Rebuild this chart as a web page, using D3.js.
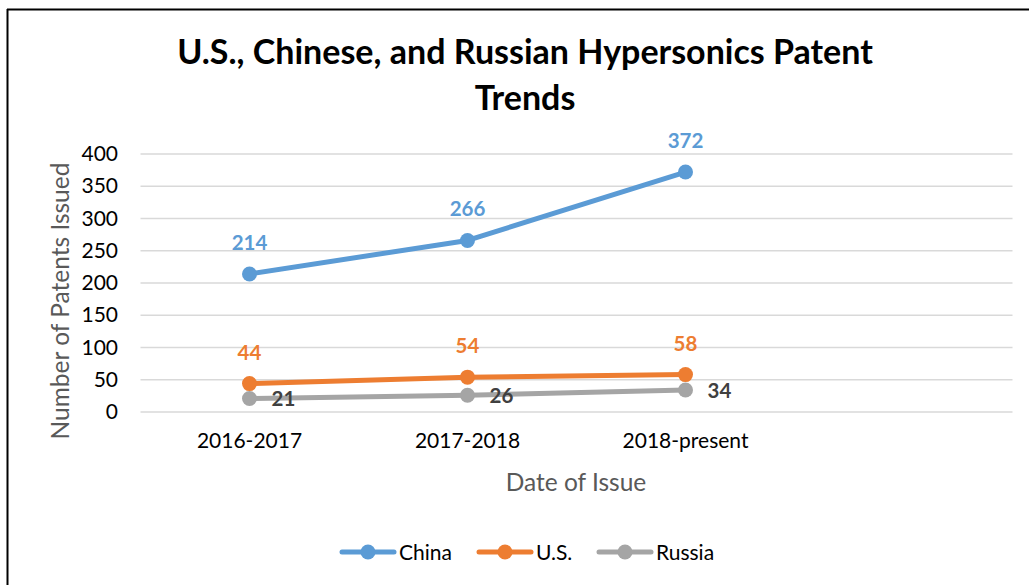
<!DOCTYPE html>
<html><head><meta charset="utf-8">
<script src="https://cdn.jsdelivr.net/npm/d3@7"></script>
<style>body{margin:0;background:#fff;} svg{display:block;font-family:Lato,"Open Sans",sans-serif;}</style>
</head><body>
<svg id="c" width="1029" height="585"></svg>
<script>
const categories = ["2016-2017", "2017-2018", "2018-present", ""];
const china = [214, 266, 372];
const us = [44, 54, 58];
const russia = [21, 26, 34];
const seriesNames = ["China", "U.S.", "Russia"];
const yTicks = [0, 50, 100, 150, 200, 250, 300, 350, 400];
const titleLines = ["U.S., Chinese, and Russian Hypersonics Patent", "Trends"];

const series = [
  {name: seriesNames[0], values: china, color: "#5B9BD5", labelPos: "above", labelColor: "#5B9BD5"},
  {name: seriesNames[1], values: us, color: "#ED7D31", labelPos: "above", labelColor: "#ED7D31"},
  {name: seriesNames[2], values: russia, color: "#A5A5A5", labelPos: "right", labelColor: "#404040"}
];

const svg = d3.select("#c");
// border
svg.append("line").attr("x1", 7).attr("x2", 1029).attr("y1", 9.5).attr("y2", 9.5).attr("stroke", "#000").attr("stroke-width", 2);
svg.append("line").attr("x1", 7.5).attr("x2", 7.5).attr("y1", 9).attr("y2", 585).attr("stroke", "#000").attr("stroke-width", 2);

const x = d3.scaleBand().domain(categories).range([140.5, 1012.5]);
const y = d3.scaleLinear().domain([0, 400]).range([412, 154]);

// title
svg.append("g").selectAll("text").data(titleLines).join("text")
  .attr("x", 525).attr("y", (d, i) => 64 + i * 46)
  .attr("text-anchor", "middle").attr("font-weight", "bold").attr("font-size", 34).attr("fill", "#000")
  .text(d => d);

// gridlines
svg.append("g").selectAll("line").data(yTicks).join("line")
  .attr("x1", 140.5).attr("x2", 1012.5)
  .attr("y1", d => y(d)).attr("y2", d => y(d))
  .attr("stroke", "#D9D9D9").attr("stroke-width", 1.5);

// y axis labels
const yAxis = d3.axisLeft(y).tickValues(yTicks).tickSize(0).tickPadding(0);
const yg = svg.append("g").attr("transform", "translate(118,0)").call(yAxis);
yg.select(".domain").remove();
yg.selectAll("text").attr("font-size", 21).attr("fill", "#000").attr("font-family", "Lato, sans-serif");

// x axis labels
const xAxis = d3.axisBottom(x).tickSize(0).tickPadding(0);
const xg = svg.append("g").attr("transform", "translate(0,433)").call(xAxis);
xg.select(".domain").remove();
xg.selectAll("text").attr("font-size", 21).attr("fill", "#000").attr("font-family", "Lato, sans-serif");

// axis titles
svg.append("text").attr("transform", "translate(69,301) rotate(-90)")
  .attr("text-anchor", "middle").attr("font-size", 24.5).attr("fill", "#595959").text("Number of Patents Issued");
svg.append("text").attr("x", 576).attr("y", 491)
  .attr("text-anchor", "middle").attr("font-size", 24.5).attr("fill", "#595959").text("Date of Issue");

const cx = i => x(categories[i]) + x.bandwidth() / 2;
const line = d3.line().x((d, i) => cx(i)).y(d => y(d));

// draw in order: russia, us, china (china on top)
series.slice().reverse().forEach(s => {
  const g = svg.append("g");
  g.append("path").attr("d", line(s.values)).attr("fill", "none").attr("stroke", s.color)
    .attr("stroke-width", 5).attr("stroke-linecap", "round").attr("stroke-linejoin", "round");
  g.selectAll("circle").data(s.values).join("circle")
    .attr("cx", (d, i) => cx(i)).attr("cy", d => y(d)).attr("r", 7.5).attr("fill", s.color);
});
series.forEach(s => {
  svg.append("g").selectAll("text").data(s.values).join("text")
    .attr("x", (d, i) => s.labelPos === "above" ? cx(i) : cx(i) + 22)
    .attr("y", d => s.labelPos === "above" ? y(d) - 24 : y(d) + 8)
    .attr("text-anchor", s.labelPos === "above" ? "middle" : "start")
    .attr("font-weight", "bold").attr("font-size", 20.5).attr("fill", s.labelColor)
    .text(d => d);
});

// legend
const legX = [340, 477, 597];
const lg = svg.append("g").attr("transform", "translate(0,552)");
series.forEach((s, i) => {
  const g = lg.append("g").attr("transform", `translate(${legX[i]},0)`);
  g.append("line").attr("x1", 2).attr("x2", 54).attr("y1", 0).attr("y2", 0)
    .attr("stroke", s.color).attr("stroke-width", 5).attr("stroke-linecap", "round");
  g.append("circle").attr("cx", 28).attr("cy", 0).attr("r", 7.5).attr("fill", s.color);
  g.append("text").attr("x", 59).attr("y", 7.5).attr("font-size", 21).attr("fill", "#000").text(s.name);
});
</script>
</body></html>
